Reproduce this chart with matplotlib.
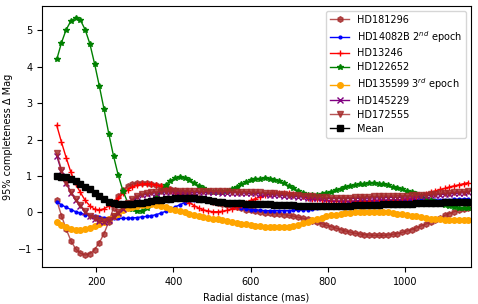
import numpy as np
import matplotlib
matplotlib.use("Agg")
import matplotlib.pyplot as plt

FONT = 7
MS = 4
LW = 1

# radial separation in pixels (IRDIS, 12.25 mas/px)
pix = list(range(8, 96))
PIXSCALE = 12.25

hd181296 = [0.33, -0.09, -0.46, -0.78, -1.00, -1.12, -1.17, -1.13, -1.02, -0.83,
            -0.58, -0.25, 0.12, 0.44, 0.62, 0.72, 0.78, 0.81, 0.81, 0.80,
            0.78, 0.75, 0.72, 0.69, 0.65, 0.61, 0.57, 0.53, 0.49, 0.45,
            0.41, 0.37, 0.33, 0.29, 0.26, 0.23, 0.20, 0.17, 0.14, 0.11,
            0.08, 0.06, 0.03, 0.01, -0.01, -0.02, -0.03, -0.04, -0.06, -0.08,
            -0.10, -0.13, -0.16, -0.19, -0.23, -0.27, -0.31, -0.35, -0.39, -0.43,
            -0.47, -0.51, -0.54, -0.57, -0.59, -0.61, -0.62, -0.63, -0.63, -0.63,
            -0.62, -0.60, -0.58, -0.55, -0.51, -0.47, -0.42, -0.37, -0.32, -0.26,
            -0.20, -0.14, -0.08, -0.03, 0.02, 0.06, 0.10, 0.13]

hd14082b = [0.29, 0.21, 0.14, 0.08, 0.02, -0.02, -0.06, -0.09, -0.11, -0.13,
            -0.14, -0.15, -0.16, -0.16, -0.16, -0.16, -0.15, -0.14, -0.12, -0.11,
            -0.09, -0.06, -0.02, 0.03, 0.09, 0.15, 0.21, 0.27, 0.32, 0.35,
            0.37, 0.37, 0.36, 0.34, 0.32, 0.29, 0.25, 0.21, 0.17, 0.13,
            0.10, 0.08, 0.07, 0.06, 0.05, 0.05, 0.05, 0.05, 0.05, 0.05,
            0.06, 0.06, 0.07, 0.08, 0.10, 0.12, 0.14, 0.16, 0.18, 0.20,
            0.22, 0.24, 0.25, 0.27, 0.28, 0.29, 0.30, 0.31, 0.32, 0.32,
            0.33, 0.33, 0.33, 0.33, 0.33, 0.33, 0.33, 0.33, 0.33, 0.33,
            0.34, 0.34, 0.35, 0.35, 0.36, 0.36, 0.37, 0.37]

hd13246 = [2.39, 1.93, 1.50, 1.10, 0.78, 0.55, 0.33, 0.18, 0.09, 0.07,
           0.10, 0.18, 0.28, 0.40, 0.52, 0.62, 0.70, 0.75, 0.78, 0.79,
           0.78, 0.76, 0.72, 0.67, 0.61, 0.53, 0.45, 0.36, 0.27, 0.19,
           0.12, 0.07, 0.04, 0.02, 0.02, 0.03, 0.06, 0.10, 0.15, 0.21,
           0.27, 0.33, 0.38, 0.43, 0.47, 0.50, 0.52, 0.53, 0.53, 0.52,
           0.50, 0.47, 0.44, 0.41, 0.38, 0.36, 0.34, 0.33, 0.32, 0.31,
           0.31, 0.31, 0.31, 0.31, 0.32, 0.32, 0.32, 0.33, 0.33, 0.33,
           0.34, 0.34, 0.35, 0.36, 0.38, 0.40, 0.43, 0.47, 0.51, 0.55,
           0.59, 0.63, 0.66, 0.70, 0.73, 0.76, 0.79, 0.82]

hd122652 = [4.20, 4.66, 5.02, 5.26, 5.34, 5.28, 5.02, 4.63, 4.08, 3.47,
            2.83, 2.16, 1.55, 1.02, 0.59, 0.27, 0.10, 0.03, 0.04, 0.12,
            0.25, 0.42, 0.60, 0.75, 0.87, 0.94, 0.96, 0.94, 0.89, 0.81,
            0.73, 0.66, 0.60, 0.57, 0.56, 0.57, 0.60, 0.65, 0.71, 0.77,
            0.83, 0.88, 0.91, 0.93, 0.94, 0.93, 0.90, 0.86, 0.80, 0.73,
            0.66, 0.59, 0.53, 0.49, 0.47, 0.48, 0.50, 0.53, 0.57, 0.61,
            0.65, 0.69, 0.72, 0.75, 0.77, 0.79, 0.80, 0.80, 0.79, 0.77,
            0.74, 0.70, 0.67, 0.63, 0.59, 0.55, 0.50, 0.45, 0.40, 0.34,
            0.29, 0.24, 0.20, 0.17, 0.14, 0.12, 0.11, 0.11]

hd135599 = [-0.26, -0.35, -0.41, -0.45, -0.48, -0.47, -0.45, -0.43, -0.38, -0.32,
            -0.26, -0.19, -0.11, -0.03, 0.07, 0.13, 0.16, 0.18, 0.20, 0.21,
            0.22, 0.21, 0.18, 0.14, 0.09, 0.06, 0.03, 0.00, -0.03, -0.06,
            -0.09, -0.12, -0.14, -0.17, -0.19, -0.21, -0.24, -0.26, -0.28, -0.31,
            -0.33, -0.35, -0.37, -0.38, -0.39, -0.40, -0.41, -0.41, -0.41, -0.40,
            -0.37, -0.34, -0.30, -0.25, -0.21, -0.17, -0.14, -0.11, -0.08, -0.06,
            -0.04, -0.02, -0.01, 0.00, 0.01, 0.02, 0.02, 0.02, 0.02, 0.01,
            0.00, -0.02, -0.03, -0.05, -0.07, -0.09, -0.11, -0.13, -0.15, -0.17,
            -0.18, -0.19, -0.20, -0.20, -0.21, -0.21, -0.21, -0.21]

hd145229 = [1.55, 1.14, 0.80, 0.54, 0.34, 0.18, 0.02, -0.11, -0.18, -0.23,
            -0.26, -0.22, -0.13, -0.02, 0.10, 0.23, 0.34, 0.42, 0.47, 0.50,
            0.52, 0.54, 0.55, 0.56, 0.56, 0.56, 0.56, 0.56, 0.55, 0.55,
            0.55, 0.55, 0.55, 0.55, 0.55, 0.54, 0.54, 0.54, 0.54, 0.53,
            0.53, 0.52, 0.52, 0.51, 0.50, 0.49, 0.48, 0.47, 0.46, 0.45,
            0.44, 0.43, 0.42, 0.41, 0.40, 0.39, 0.39, 0.38, 0.38, 0.38,
            0.38, 0.38, 0.38, 0.38, 0.39, 0.39, 0.39, 0.40, 0.40, 0.40,
            0.41, 0.41, 0.41, 0.42, 0.42, 0.43, 0.44, 0.45, 0.46, 0.47,
            0.48, 0.49, 0.50, 0.51, 0.52, 0.53, 0.54, 0.55]

hd172555 = [1.62, 1.17, 0.82, 0.56, 0.36, 0.20, 0.04, -0.09, -0.16, -0.21,
            -0.24, -0.20, -0.10, 0.02, 0.14, 0.27, 0.37, 0.45, 0.50, 0.53,
            0.55, 0.57, 0.58, 0.59, 0.59, 0.59, 0.59, 0.59, 0.59, 0.58,
            0.58, 0.58, 0.58, 0.58, 0.58, 0.58, 0.58, 0.57, 0.57, 0.57,
            0.57, 0.56, 0.56, 0.55, 0.54, 0.53, 0.52, 0.51, 0.50, 0.49,
            0.48, 0.47, 0.46, 0.45, 0.44, 0.43, 0.42, 0.42, 0.41, 0.41,
            0.41, 0.41, 0.41, 0.42, 0.42, 0.43, 0.43, 0.44, 0.44, 0.45,
            0.45, 0.45, 0.46, 0.46, 0.46, 0.47, 0.47, 0.48, 0.49, 0.50,
            0.51, 0.52, 0.53, 0.54, 0.55, 0.56, 0.57, 0.58]

mean = [0.99, 0.98, 0.96, 0.92, 0.86, 0.79, 0.71, 0.63, 0.54, 0.45,
        0.37, 0.30, 0.26, 0.23, 0.22, 0.22, 0.23, 0.25, 0.27, 0.29,
        0.31, 0.33, 0.35, 0.37, 0.38, 0.39, 0.40, 0.40, 0.40, 0.39,
        0.38, 0.36, 0.34, 0.32, 0.30, 0.28, 0.27, 0.26, 0.25, 0.25,
        0.24, 0.24, 0.23, 0.23, 0.22, 0.22, 0.21, 0.21, 0.20, 0.20,
        0.20, 0.19, 0.19, 0.19, 0.19, 0.19, 0.19, 0.19, 0.19, 0.19,
        0.19, 0.19, 0.19, 0.20, 0.20, 0.20, 0.21, 0.21, 0.21, 0.22,
        0.22, 0.22, 0.23, 0.23, 0.24, 0.24, 0.25, 0.25, 0.26, 0.26,
        0.27, 0.27, 0.28, 0.28, 0.29, 0.29, 0.30, 0.30]

sep = np.array(pix) * PIXSCALE

plt.rcParams['font.size'] = FONT
fig = plt.figure(figsize=(4.78, 3.04), dpi=100)
ax = fig.add_axes([0.088, 0.122, 0.897, 0.858])

ax.plot(sep, hd181296, marker='h', ms=MS, lw=LW, color='brown', alpha=0.8, label='HD181296')
ax.plot(sep, hd14082b, marker='.', ms=MS, lw=LW, color='blue', label=r'HD14082B 2$^{nd}$ epoch')
ax.plot(sep, hd13246, marker='+', ms=MS + 1, lw=LW, color='red', label='HD13246')
ax.plot(sep, hd122652, marker='*', ms=MS, lw=LW, color='green', label='HD122652')
ax.plot(sep, hd135599, marker='o', ms=MS, lw=LW, color='orange', label=r'HD135599 3$^{rd}$ epoch')
ax.plot(sep, hd145229, marker='x', ms=MS, lw=LW, color='purple', label='HD145229')
ax.plot(sep, hd172555, marker='v', ms=MS, lw=LW, color='brown', alpha=0.8, label='HD172555')
ax.plot(sep, mean, marker='s', ms=MS + 0.5, lw=LW, color='black', label='Mean')

ax.set_xlim(60, 1170)
ax.set_xlabel('Radial distance (mas)', fontsize=FONT)
ax.set_ylabel('95% completeness Δ Mag', fontsize=FONT)
ax.tick_params(labelsize=FONT)
ax.legend(loc='upper right', fontsize=FONT, labelspacing=0.4)

fig.savefig('out.png', dpi=100)
